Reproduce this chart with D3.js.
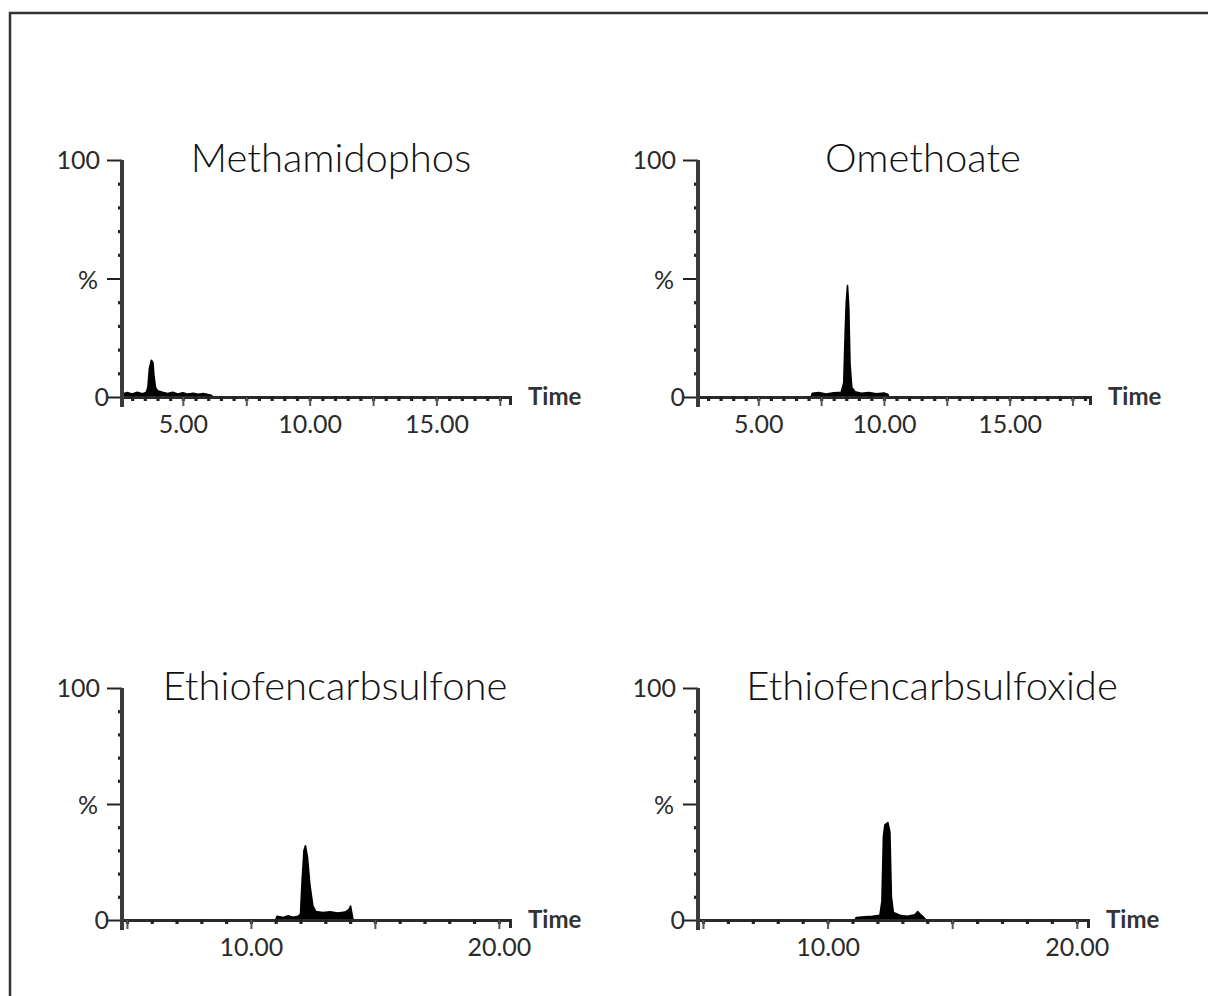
<!DOCTYPE html>
<html>
<head>
<meta charset="utf-8">
<script src="https://cdn.jsdelivr.net/npm/d3@7"></script>
<style>
  body { margin: 0; background: #fff; overflow: hidden; }
  svg { display: block; }
  .title { font-family: Lato, "Open Sans", sans-serif; font-weight: 300; font-size: 40px; fill: #111; }
  .lab { font-family: Lato, "Open Sans", sans-serif; font-size: 25px; fill: #2b2b2b; }
  .time { font-family: Lato, sans-serif; font-weight: bold; font-size: 24px; fill: #333; }
</style>
</head>
<body>
<svg></svg>
<script>
const titles = ['Methamidophos', 'Omethoate', 'Ethiofencarbsulfone', 'Ethiofencarbsulfoxide'];

// time (min), relative abundance (%)
const methamidophos = [
  [2.6, 1.2], [2.8, 1.9], [3.0, 1.3], [3.2, 2.0], [3.4, 1.4], [3.55, 1.9], [3.62, 4],
  [3.68, 12], [3.76, 15.5], [3.82, 14.5], [3.86, 9], [3.92, 4], [4.0, 2.6], [4.2, 2.0],
  [4.4, 1.5], [4.6, 2.0], [4.8, 1.3], [5.0, 1.8], [5.2, 1.2], [5.4, 1.6], [5.6, 1.1],
  [5.8, 1.5], [6.0, 1.0], [6.1, 0.8], [6.2, 0]
];
const omethoate = [
  [7.1, 0], [7.15, 1.6], [7.4, 1.9], [7.7, 1.3], [8.0, 1.8], [8.3, 2.0], [8.4, 6],
  [8.46, 28], [8.5, 40], [8.55, 47], [8.6, 38], [8.65, 14], [8.72, 4], [8.85, 2.2],
  [9.1, 1.6], [9.4, 1.9], [9.7, 1.4], [10.0, 1.7], [10.15, 1.2], [10.2, 0]
];
const ethiofencarbsulfone = [
  [11.0, 0], [11.05, 1.6], [11.3, 1.1], [11.5, 1.8], [11.7, 1.2], [11.9, 1.6], [12.0, 2.5],
  [12.06, 16], [12.14, 30], [12.2, 32], [12.28, 27], [12.38, 15], [12.5, 6], [12.62, 3.6],
  [12.9, 3.2], [13.2, 3.5], [13.5, 3.0], [13.8, 3.4], [13.95, 4.5], [14.02, 6], [14.07, 3],
  [14.12, 0]
];
const ethiofencarbsulfoxide = [
  [11.1, 0], [11.15, 1.1], [11.5, 1.4], [11.8, 1.6], [12.1, 2.0], [12.18, 8], [12.24, 36],
  [12.3, 41], [12.42, 42], [12.5, 38], [12.56, 10], [12.64, 3.2], [12.9, 2.0], [13.2, 1.6],
  [13.5, 2.2], [13.62, 3.6], [13.72, 2.4], [13.85, 1.2], [13.95, 0]
];
const series = [methamidophos, omethoate, ethiofencarbsulfone, ethiofencarbsulfoxide];

const xDomains = [[2.6, 17.9], [2.6, 18.2], [4.8, 20.45], [4.8, 20.45]];
const xLabels = [[5, 10, 15], [5, 10, 15], [10, 20], [10, 20]];
const minorStep = [0.5, 0.5, 1, 1];
const majorStep = [2.5, 2.5, 5, 5];

// panel frames: y-axis x, x-axis end, 100% y, 0% y
const frames = [
  {x0: 122, x1: 510, yTop: 160, yZero: 397},
  {x0: 698, x1: 1090, yTop: 160, yZero: 397},
  {x0: 122, x1: 510, yTop: 688, yZero: 920},
  {x0: 698, x1: 1088, yTop: 688, yZero: 920}
];

const svg = d3.select('svg')
  .attr('width', 1208)
  .attr('height', 996);

// outer frame, only top and left edges are in the picture
svg.append('path')
  .attr('d', 'M10,1000V13H1208')
  .attr('fill', 'none')
  .attr('stroke', '#333')
  .attr('stroke-width', 2.5);

series.forEach((data, i) => {
  const f = frames[i];
  const x = d3.scaleLinear().domain(xDomains[i]).range([f.x0, f.x1]);
  const y = d3.scaleLinear().domain([0, 100]).range([f.yZero, f.yTop]);
  const g = svg.append('g');

  // title
  g.append('text')
    .attr('class', 'title')
    .attr('x', [331, 923, 335, 932][i])
    .attr('y', f.yTop + 12)
    .attr('text-anchor', 'middle')
    .text(titles[i]);

  // trace
  const area = d3.area()
    .x(d => x(d[0]))
    .y0(y(0))
    .y1(d => y(d[1]));
  g.append('path')
    .datum(data)
    .attr('d', area)
    .attr('fill', '#000')
    .attr('stroke', '#000')
    .attr('stroke-width', 1.6)
    .attr('stroke-linejoin', 'round');

  // x axis: minor dots, major ticks, line
  const d0 = xDomains[i][0], d1 = xDomains[i][1];
  const minors = d3.range(Math.ceil(d0 / minorStep[i]) * minorStep[i], d1, minorStep[i]);
  const majors = minors.filter(v => Math.abs(v / majorStep[i] - Math.round(v / majorStep[i])) < 1e-6);

  const xMinor = g.append('g')
    .attr('transform', `translate(0,${f.yZero})`)
    .call(d3.axisBottom(x).tickValues(minors).tickSize(4).tickSizeOuter(8).tickFormat(''));
  xMinor.selectAll('.tick line').attr('stroke', '#222').attr('stroke-width', 3.2).attr('y1', -1);
  xMinor.select('.domain').attr('stroke', '#2a2a2a').attr('stroke-width', 3);

  g.append('g')
    .attr('transform', `translate(0,${f.yZero})`)
    .call(d3.axisBottom(x).tickValues(majors).tickSize(9).tickFormat(''))
    .call(a => a.select('.domain').remove())
    .selectAll('.tick line').attr('stroke', '#555').attr('stroke-width', 2);

  const xLab = g.append('g')
    .attr('transform', `translate(0,${f.yZero})`)
    .call(d3.axisBottom(x).tickValues(xLabels[i]).tickSize(0).tickPadding(0).tickFormat(d3.format('.2f')));
  xLab.select('.domain').remove();
  xLab.selectAll('text')
    .attr('class', 'lab')
    .attr('y', 36)
    .attr('dy', 0)
    .attr('font-size', null)
    .attr('font-family', null)
    .attr('fill', null);

  g.append('text')
    .attr('class', 'time')
    .attr('x', f.x1 + 18)
    .attr('y', f.yZero + 8)
    .text('Time');

  // y axis
  const yAx = g.append('g')
    .attr('transform', `translate(${f.x0},0)`)
    .call(d3.axisLeft(y).tickValues(d3.range(0, 101, 10)).tickSize(5).tickSizeOuter(0).tickFormat(''));
  yAx.select('.domain').remove();
  yAx.selectAll('.tick line')
    .attr('stroke', '#222')
    .attr('x2', d => (d % 50 === 0 ? -15 : -4))
    .attr('stroke-width', d => (d % 50 === 0 ? 2 : 3.2));
  g.append('line')
    .attr('x1', f.x0).attr('x2', f.x0)
    .attr('y1', y(100)).attr('y2', f.yZero + 10)
    .attr('stroke', '#3a3a3a')
    .attr('stroke-width', 4);

  g.append('text').attr('class', 'lab')
    .attr('x', f.x0 - 22).attr('y', y(100) + 9)
    .attr('text-anchor', 'end').text('100');
  g.append('text').attr('class', 'lab')
    .attr('x', f.x0 - 24).attr('y', y(50) + 10)
    .attr('text-anchor', 'end').text('%');
  g.append('text').attr('class', 'lab')
    .attr('x', f.x0 - 13).attr('y', y(0) + 9)
    .attr('text-anchor', 'end').text('0');
});
</script>
</body>
</html>
